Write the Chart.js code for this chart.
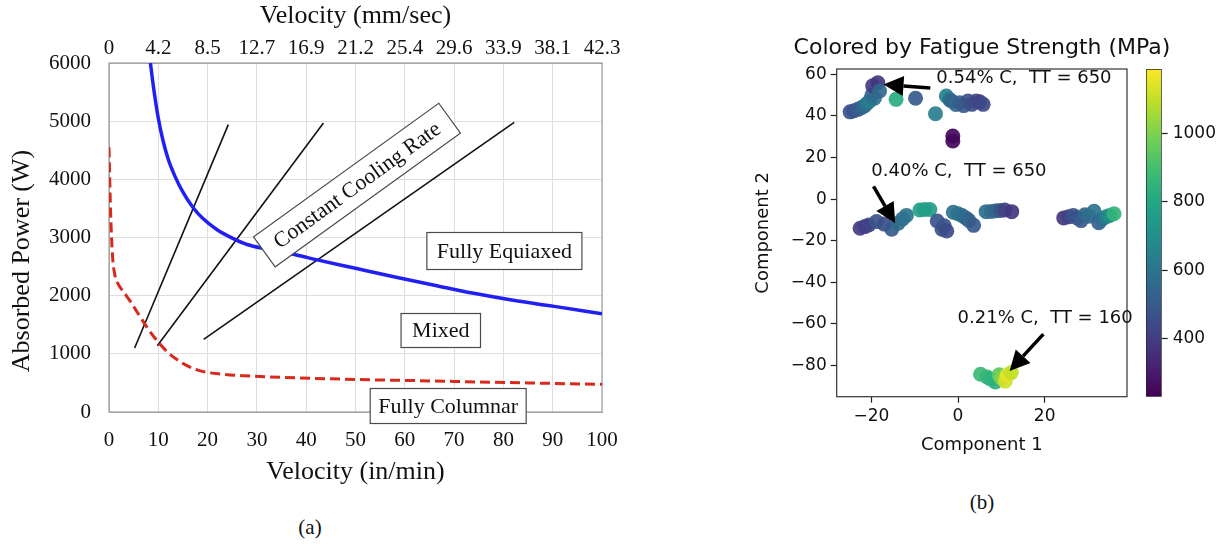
<!DOCTYPE html>
<html>
<head>
<meta charset="utf-8">
<script src="https://cdn.jsdelivr.net/npm/chart.js@4.4.1/dist/chart.umd.min.js"></script>
<style>
  body { margin:0; background:#fff; width:1231px; height:544px; position:relative; overflow:hidden; }
  canvas { position:absolute; }
  #chartA { left:0; top:0; }
  #chartB { left:740px; top:20px; }
  #chartBar { left:1140px; top:20px; }
  .cap { position:absolute; font-family:"Liberation Serif", serif; font-size:21px; color:#111; transform:translate(-50%,-50%); }
</style>
</head>
<body>
<canvas id="chartA" width="640" height="500"></canvas>
<canvas id="chartB" width="484" height="440"></canvas>
<canvas id="chartBar" width="91" height="440"></canvas>
<div class="cap" style="left:310px;top:527px">(a)</div>
<div class="cap" style="left:982px;top:502px">(b)</div>
<script>
// ---------------- (a) process map ----------------
const mmPerSec = ['0', '4.2', '8.5', '12.7', '16.9', '21.2', '25.4', '29.6', '33.9', '38.1', '42.3'];

// blue boundary (fully equiaxed / mixed)
const equiaxedVel = [8.4, 9, 10, 11, 12, 13.5, 15, 17, 19, 22, 25, 28, 32, 38, 42, 50, 58, 66, 74, 82, 90, 100];
const equiaxedPow = [6000, 5600, 5050, 4650, 4350, 4030, 3780, 3520, 3330, 3130, 2990, 2880, 2800, 2700, 2620, 2470, 2320, 2180, 2040, 1920, 1820, 1690];

// red dashed boundary (mixed / fully columnar)
const columnarVel = [0, 0.3, 0.7, 1.2, 2, 3, 4.5, 6, 8, 10, 12, 14, 16, 18, 20, 23, 27, 35, 45, 55, 65, 75, 85, 100];
const columnarPow = [4550, 3500, 2700, 2350, 2180, 2060, 1880, 1680, 1420, 1200, 1020, 890, 790, 720, 680, 650, 625, 595, 570, 550, 535, 515, 500, 475];

// constant cooling rate lines (start, end)
const coolingVel = [[5.2, 24.2], [9.8, 43.5], [19.2, 82.2]];
const coolingPow = [[1100, 4940], [1140, 4970], [1250, 4980]];

// ---------------- (b) PCA scatter ----------------
const comp1 = [
  -24.9, -24, -23.1, -22.3, -21.6, -21, -20.4, -19.3, -19.9, -19.7, -18.5, -18.1, -14.3, -9.8,
  -5.2, -2.7, -2, -1.5, -0.5, 0.4, 1.3, 2.3, 3.2, 4.2, 5, 5.8, -1.2, -1.2,
  -22.6, -21.5, -20.6, -18.8, -17, -15.3, -13.8, -12.8, -11.9, -8.8, -7.7, -6.5, -4.8, -3.7, -3.2, -2.6,
  -1.1, 0, 0.9, 1.8, 2.5, 3.6, 6.5, 7.7, 8.8, 9.8, 10.8, 12.4,
  24.4, 25.5, 26.6, 27.5, 28.4, 29.3, 30.2, 31.4, 32.5, 33.3, 34.2, 35, 36,
  5.2, 6.7, 7.5, 8.6, 9.5, 10, 10.9, 11.3, 12.3
];
const comp2 = [
  42, 42.5, 43.2, 44, 44.8, 46, 47.2, 48.5, 50, 54.5, 56, 52, 48, 48.5,
  41.1, 49.6, 48, 47.2, 45.5, 46.4, 45, 47.2, 45.6, 47.2, 46.8, 45.6, 30.4, 28,
  -14, -13.2, -12.4, -10.8, -12, -14.5, -11.6, -9.5, -7.8, -5.2, -5, -5, -10.5, -14.5, -12.8, -15.3,
  -6.3, -7, -7.8, -9, -10.2, -12.6, -6, -5.9, -5.6, -5.4, -5.2, -6,
  -9, -8.5, -7.8, -9, -10.3, -7.5, -8.2, -5.8, -11.3, -9.5, -8.4, -7.8, -7,
  -84.2, -85.5, -86.5, -87.9, -84.5, -86, -87.5, -84.7, -83.4
];
const fatigue = [
  480, 480, 500, 520, 560, 600, 640, 600, 560, 400, 380, 560, 820, 500,
  640, 650, 600, 540, 560, 520, 500, 470, 450, 430, 420, 440, 250, 250,
  400, 410, 420, 480, 460, 500, 560, 580, 600, 770, 770, 760, 480, 470, 470, 450,
  600, 590, 580, 560, 540, 500, 580, 560, 540, 480, 420, 380,
  380, 420, 470, 480, 500, 540, 560, 600, 520, 580, 640, 700, 850,
  880, 860, 850, 840, 950, 1000, 1120, 1150, 1100
];
const fatigueMin = 230, fatigueMax = 1189;
const colorbarTicks = [400, 600, 800, 1000];

// --------------------------------------------------
const serif = "'Liberation Serif', 'Times New Roman', serif";
const sans = "'DejaVu Sans', sans-serif";

function pts(xs, ys) { return xs.map((x, i) => ({ x: x, y: ys[i] })); }

const viridisStops = ['#440154', '#482475', '#414487', '#355f8d', '#2a788e', '#21918c', '#22a884', '#44bf70', '#7ad151', '#bddf26', '#fde725'];
function hexRgb(h) { return [1, 3, 5].map(i => parseInt(h.substr(i, 2), 16)); }
function viridis(t, a) {
  t = Math.max(0, Math.min(1, t));
  const p = t * 10, i = Math.min(9, Math.floor(p)), f = p - i;
  const c0 = hexRgb(viridisStops[i]), c1 = hexRgb(viridisStops[i + 1]);
  const c = c0.map((v, k) => Math.round(v + (c1[k] - v) * f));
  return 'rgba(' + c.join(',') + ',' + (a == null ? 1 : a) + ')';
}

// text boxes on the process map
const regionBoxes = [
  { text: 'Constant Cooling Rate', vel: 50.3, pow: 3902, angle: -35.8, padX: 14, h: 37 },
  { text: 'Fully Equiaxed', vel: 80.2, pow: 2768, angle: 0, padX: 10, h: 37 },
  { text: 'Mixed', vel: 67.3, pow: 1401, angle: 0, padX: 11, h: 34 },
  { text: 'Fully Columnar', vel: 68.8, pow: 103, angle: 0, padX: 8, h: 35 }
];

const frameA = {
  id: 'frameA',
  beforeDatasetsDraw(chart) {
    const a = chart.chartArea, ctx = chart.ctx;
    ctx.save();
    ctx.strokeStyle = '#a6a6a6';
    ctx.lineWidth = 1.3;
    ctx.strokeRect(a.left, a.top, a.right - a.left, a.bottom - a.top);
    // y axis title, set a little below the axis middle as in the source figure
    ctx.translate(22, 261);
    ctx.rotate(-Math.PI / 2);
    ctx.fillStyle = '#111';
    ctx.font = '26px ' + serif;
    ctx.textAlign = 'center';
    ctx.textBaseline = 'middle';
    ctx.fillText('Absorbed Power (W)', 0, 0);
    ctx.restore();
  }
};

const boxesA = {
  id: 'boxesA',
  afterDraw(chart) {
    const ctx = chart.ctx, sx = chart.scales.x, sy = chart.scales.y;
    ctx.save();
    ctx.font = '22px ' + serif;
    regionBoxes.forEach(b => {
      const cx = sx.getPixelForValue(b.vel), cy = sy.getPixelForValue(b.pow);
      const w = ctx.measureText(b.text).width + 2 * b.padX;
      ctx.save();
      ctx.translate(cx, cy);
      ctx.rotate(b.angle * Math.PI / 180);
      ctx.fillStyle = '#fff';
      ctx.fillRect(-w / 2, -b.h / 2, w, b.h);
      ctx.strokeStyle = '#4a4a4a';
      ctx.lineWidth = 1.2;
      ctx.strokeRect(-w / 2, -b.h / 2, w, b.h);
      ctx.fillStyle = '#111';
      ctx.textAlign = 'center';
      ctx.textBaseline = 'middle';
      ctx.fillText(b.text, 0, 1);
      ctx.restore();
    });
    ctx.restore();
  }
};

const coolingSets = coolingVel.map((xs, i) => ({
  label: 'Constant cooling rate ' + (i + 1),
  data: pts(xs, coolingPow[i]),
  showLine: true,
  borderColor: '#111',
  borderWidth: 1.6,
  pointRadius: 0
}));

const gridA = '#dedede';
const tickFontA = { family: serif, size: 21 };
const titleFontA = { family: serif, size: 26 };
const plain = v => String(v);

new Chart(document.getElementById('chartA'), {
  type: 'scatter',
  data: {
    datasets: [
      {
        label: 'Equiaxed boundary',
        data: pts(equiaxedVel, equiaxedPow),
        showLine: true,
        borderColor: '#2020f5',
        borderWidth: 3.5,
        pointRadius: 0,
        cubicInterpolationMode: 'monotone'
      },
      {
        label: 'Columnar boundary',
        data: pts(columnarVel, columnarPow),
        showLine: true,
        borderColor: '#d8291c',
        borderWidth: 3,
        borderDash: [10, 5],
        pointRadius: 0,
        cubicInterpolationMode: 'monotone'
      }
    ].concat(coolingSets)
  },
  options: {
    responsive: false,
    animation: false,
    events: [],
    layout: { padding: { left: 0, right: 38, top: 0, bottom: 0 } },
    plugins: { legend: { display: false }, tooltip: { enabled: false } },
    scales: {
      x: {
        type: 'linear', position: 'bottom', min: 0, max: 100,
        ticks: { stepSize: 10, padding: 16, color: '#111', font: tickFontA, maxRotation: 0, callback: plain },
        grid: { color: gridA, drawTicks: false },
        border: { color: '#a6a6a6' },
        title: { display: true, text: 'Velocity (in/min)', color: '#111', font: titleFontA, padding: { top: 0, bottom: 12 } },
        afterFit(s) { s.height = 88; }
      },
      x2: {
        type: 'linear', position: 'top', min: 0, max: 100,
        ticks: { stepSize: 10, padding: 2, color: '#111', font: tickFontA, maxRotation: 0,
          callback: v => mmPerSec[Math.round(v / 10)] },
        grid: { display: false, drawTicks: false },
        border: { color: '#a6a6a6' },
        title: { display: true, text: 'Velocity (mm/sec)', color: '#111', font: titleFontA, padding: { top: 1, bottom: 0 } },
        afterFit(s) { s.height = 63; }
      },
      y: {
        min: 0, max: 6000,
        ticks: { stepSize: 1000, padding: 18, color: '#111', font: tickFontA, callback: plain },
        grid: { color: gridA, drawTicks: false },
        border: { color: '#a6a6a6' },
        afterFit(s) { s.width = 109; }
      }
    }
  },
  plugins: [frameA, boxesA]
});

// ---------------- (b) ----------------
const callouts = [
  { text: '0.54% C,  TT = 650', tx: -5.0, ty: 58.3, from: [-6.4, 53.5], to: [-17.2, 55.1] },
  { text: '0.40% C,  TT = 650', tx: -20.0, ty: 13.3, from: [-19.5, 6.1], to: [-14.5, -11.6] },
  { text: '0.21% C,  TT = 160', tx: -0.1, ty: -57.1, from: [19.7, -64.9], to: [11.9, -82.6] }
];

function mpl(v) { return v < 0 ? '\u2212' + Math.abs(v) : String(v); }

const frameB = {
  id: 'frameB',
  afterDraw(chart) {
    const a = chart.chartArea, ctx = chart.ctx, sx = chart.scales.x, sy = chart.scales.y;
    ctx.save();
    ctx.strokeStyle = '#333';
    ctx.lineWidth = 1.2;
    ctx.strokeRect(a.left, a.top, a.right - a.left, a.bottom - a.top);

    ctx.fillStyle = '#111';
    ctx.strokeStyle = '#000';
    ctx.font = '18px ' + sans;
    ctx.textAlign = 'left';
    ctx.textBaseline = 'middle';
    callouts.forEach(c => {
      ctx.fillText(c.text, sx.getPixelForValue(c.tx), sy.getPixelForValue(c.ty));
      const x0 = sx.getPixelForValue(c.from[0]), y0 = sy.getPixelForValue(c.from[1]);
      const x1 = sx.getPixelForValue(c.to[0]), y1 = sy.getPixelForValue(c.to[1]);
      const len = Math.hypot(x1 - x0, y1 - y0), dx = (x1 - x0) / len, dy = (y1 - y0) / len;
      const L = 20, W = 10;
      const bx = x1 - dx * L, by = y1 - dy * L;
      ctx.lineWidth = 3.5;
      ctx.beginPath();
      ctx.moveTo(x0, y0);
      ctx.lineTo(bx, by);
      ctx.stroke();
      ctx.beginPath();
      ctx.moveTo(x1, y1);
      ctx.lineTo(bx - dy * W, by + dx * W);
      ctx.lineTo(bx + dy * W, by - dx * W);
      ctx.closePath();
      ctx.fillStyle = '#000';
      ctx.fill();
      ctx.fillStyle = '#111';
    });
    ctx.restore();
  }
};

const tickFontB = { family: sans, size: 17 };
const labelFontB = { family: sans, size: 18 };
const mplGrid = { drawOnChartArea: false, drawTicks: true, tickLength: 6, color: '#222', tickWidth: 1.2 };

new Chart(document.getElementById('chartB'), {
  type: 'scatter',
  data: {
    datasets: [{
      label: 'Fatigue strength',
      data: pts(comp1, comp2),
      pointRadius: 7.5,
      pointBorderWidth: 0,
      pointBackgroundColor: ctx => viridis((fatigue[ctx.dataIndex] - fatigueMin) / (fatigueMax - fatigueMin), 0.92)
    }]
  },
  options: {
    responsive: false,
    animation: false,
    events: [],
    layout: { padding: 0 },
    plugins: {
      legend: { display: false },
      tooltip: { enabled: false },
      title: {
        display: true,
        text: 'Colored by Fatigue Strength (MPa)',
        color: '#111',
        font: { family: sans, size: 22, weight: 'normal' },
        padding: { top: 14.8, bottom: 7.8 }
      }
    },
    scales: {
      x: {
        type: 'linear', min: -28, max: 39,
        ticks: { stepSize: 20, includeBounds: false, padding: 4, color: '#111', font: tickFontB, callback: mpl },
        grid: mplGrid,
        border: { display: false },
        title: { display: true, text: 'Component 1', color: '#111', font: labelFontB, padding: { top: 0, bottom: 4 } },
        afterFit(s) { s.height = 63.3; }
      },
      y: {
        min: -95, max: 62.6,
        ticks: { stepSize: 20, includeBounds: false, padding: 4, color: '#111', font: tickFontB, callback: mpl },
        grid: mplGrid,
        border: { display: false },
        title: { display: true, text: 'Component 2', color: '#111', font: labelFontB, padding: { top: 13, bottom: 0 } },
        afterFit(s) { s.width = 96.7; }
      },
      yPad: {
        position: 'right', display: true,
        ticks: { display: false },
        grid: { display: false },
        border: { display: false },
        afterFit(s) { s.width = 97; }
      }
    }
  },
  plugins: [frameB]
});

// colour bar
new Chart(document.getElementById('chartBar'), {
  type: 'bar',
  data: {
    labels: ['MPa'],
    datasets: [{
      label: 'Fatigue Strength (MPa)',
      data: [[fatigueMin, fatigueMax]],
      barPercentage: 1,
      categoryPercentage: 1,
      borderColor: '#222',
      borderWidth: 1,
      borderSkipped: false,
      backgroundColor: ctx => {
        const a = ctx.chart.chartArea;
        if (!a) return viridisStops[5];
        const g = ctx.chart.ctx.createLinearGradient(0, a.bottom, 0, a.top);
        viridisStops.forEach((c, i) => g.addColorStop(i / 10, c));
        return g;
      }
    }]
  },
  options: {
    responsive: false,
    animation: false,
    events: [],
    layout: { padding: { left: 6, right: 0, top: 49, bottom: 63.3 } },
    plugins: { legend: { display: false }, tooltip: { enabled: false } },
    scales: {
      x: { display: false },
      y: {
        position: 'right', min: fatigueMin, max: fatigueMax,
        afterBuildTicks(s) { s.ticks = colorbarTicks.map(v => ({ value: v })); },
        ticks: { padding: 5, color: '#111', font: tickFontB, callback: plain },
        grid: mplGrid,
        border: { display: false },
        afterFit(s) { s.width = 69.3; }
      }
    }
  }
});
</script>
</body>
</html>
